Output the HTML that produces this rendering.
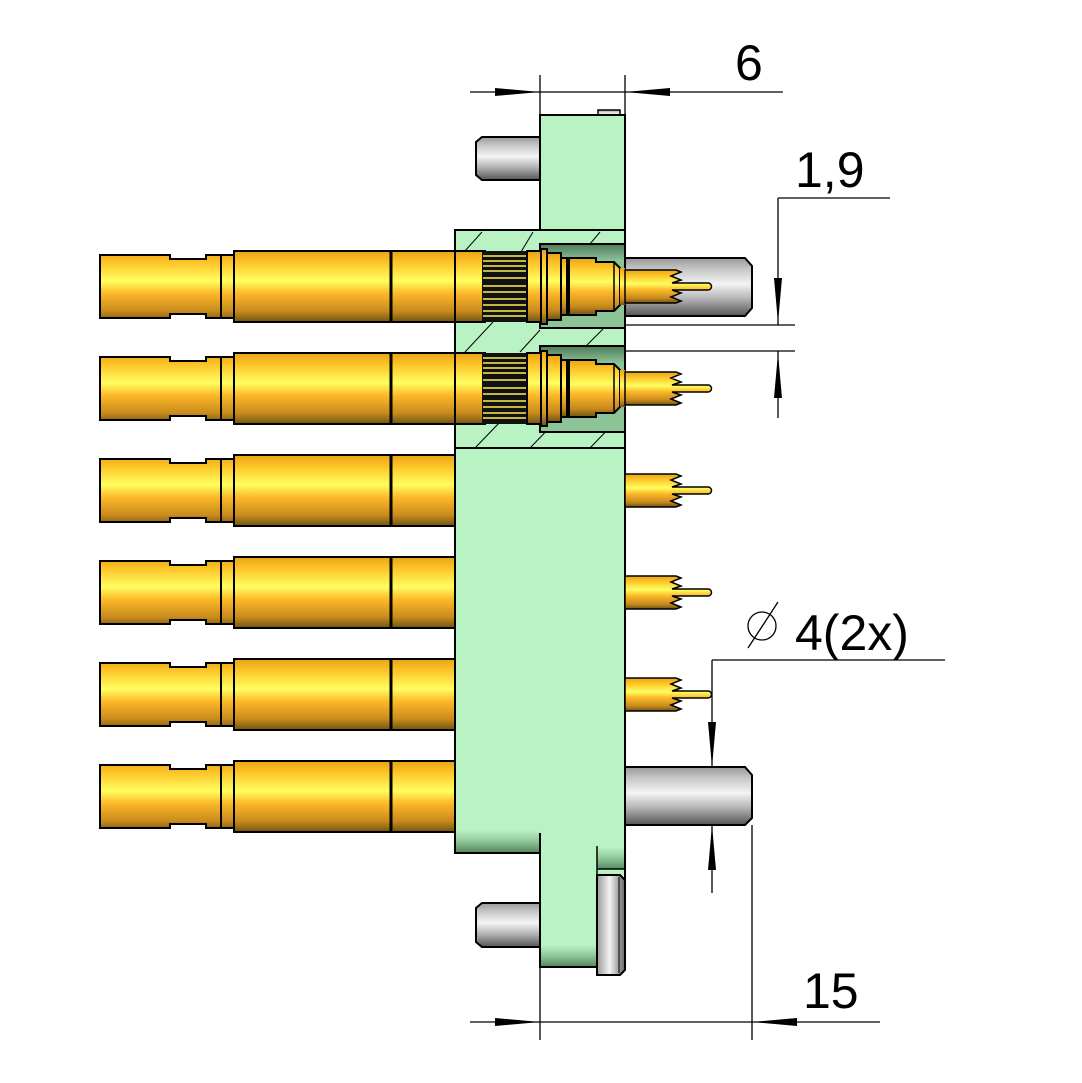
<!DOCTYPE html>
<html><head><meta charset="utf-8"><style>html,body{margin:0;padding:0;background:#fff}svg{display:block}text{font-family:"Liberation Sans",sans-serif;font-size:50px;fill:#000}</style></head>
<body>
<svg width="1082" height="1083" viewBox="0 0 1082 1083" xmlns="http://www.w3.org/2000/svg">
<defs>
<linearGradient id="au" x1="0" y1="0" x2="0" y2="1">
<stop offset="0" stop-color="#e8a416"/><stop offset="0.15" stop-color="#fdc225"/><stop offset="0.42" stop-color="#fffe60"/><stop offset="0.6" stop-color="#fcb828"/><stop offset="0.85" stop-color="#c88a1e"/><stop offset="1" stop-color="#6e5410"/></linearGradient>
<linearGradient id="ag" x1="0" y1="0" x2="0" y2="1">
<stop offset="0" stop-color="#999"/><stop offset="0.2" stop-color="#c8c8c8"/><stop offset="0.45" stop-color="#f4f4f4"/><stop offset="0.7" stop-color="#b4b4b4"/><stop offset="1" stop-color="#555"/></linearGradient>
<linearGradient id="agh" x1="0" y1="0" x2="1" y2="0">
<stop offset="0" stop-color="#999"/><stop offset="0.45" stop-color="#f4f4f4"/><stop offset="1" stop-color="#666"/></linearGradient>
<linearGradient id="gd" x1="0" y1="0" x2="0" y2="1">
<stop offset="0" stop-color="#4f7a5a"/><stop offset="0.2" stop-color="#8cc497"/><stop offset="1" stop-color="#8cc497"/></linearGradient>
<linearGradient id="gb" x1="0" y1="0" x2="0" y2="1">
<stop offset="0" stop-color="#b9f3c4"/><stop offset="0.5" stop-color="#90c89a"/><stop offset="1" stop-color="#5a8a63"/></linearGradient>
<g id="body">
<path d="M100 255 H170 V259 H206 V255 H234 V251 H455 V322 H234 V318 H206 V314 H170 V318 H100 Z" fill="url(#au)" stroke="#000" stroke-width="2"/>
<line x1="221" y1="255" x2="221" y2="318" stroke="#000" stroke-width="2"/>
<line x1="234" y1="251" x2="234" y2="322" stroke="#000" stroke-width="2"/>
<line x1="391" y1="251" x2="391" y2="322" stroke="#000" stroke-width="3"/>
</g>
<g id="tip">
<path d="M625 270 H676 L681 272 L671 276 L681 280 L672 283 H708 A3 3 0 0 1 708 290 H672 L681 293 L671 297 L681 301 L676 303 H625 Z" fill="url(#au)" stroke="#000" stroke-width="1.5"/>
</g>
</defs>
<!-- green flange top -->
<rect x="598" y="110" width="22" height="8" fill="url(#ag)" stroke="#000" stroke-width="1.5"/>
<rect x="540" y="115" width="85" height="118" fill="#b9f3c4" stroke="#000" stroke-width="2"/>
<!-- left top pin -->
<path d="M482 137 H540 V180 H482 L476 175 V142 Z" fill="url(#ag)" stroke="#000" stroke-width="2"/>
<!-- section -->
<rect x="455" y="230" width="170" height="220" fill="#b9f3c4" stroke="#000" stroke-width="2"/>
<g stroke="#000" stroke-width="1">
<line x1="455" y1="262" x2="482" y2="232"/><line x1="515" y1="262" x2="533" y2="232"/><line x1="575" y1="262" x2="600" y2="232"/>
<line x1="465" y1="352" x2="493" y2="322"/><line x1="520" y1="352" x2="540" y2="330"/><line x1="580" y1="352" x2="605" y2="327"/>
<line x1="475" y1="448" x2="500" y2="422"/><line x1="530" y1="448" x2="555" y2="422"/><line x1="590" y1="448" x2="615" y2="422"/>
</g>
<rect x="540" y="244" width="85" height="84" fill="url(#gd)" stroke="#000" stroke-width="2"/>
<rect x="540" y="346" width="85" height="86" fill="url(#gd)" stroke="#000" stroke-width="2"/>
<line x1="455" y1="448" x2="625" y2="448" stroke="#000" stroke-width="2"/>
<!-- main body -->
<path d="M455 448 H625 V853 H455 Z" fill="#b9f3c4" stroke="#000" stroke-width="2"/>
<rect x="456" y="830" width="84" height="22" fill="url(#gb)"/>
<path d="M540 833 V967 H625 V853" fill="#b9f3c4" stroke="#000" stroke-width="2"/>
<rect x="541" y="945" width="56" height="21" fill="url(#gb)"/>
<rect x="597" y="847" width="27" height="22" fill="url(#gb)"/>
<line x1="597" y1="846" x2="597" y2="875" stroke="#000" stroke-width="1.5"/>
<line x1="597" y1="869" x2="625" y2="869" stroke="#000" stroke-width="1.5"/>
<path d="M597 875 H620 L625 880 V970 L620 975 H597 Z" fill="url(#agh)" stroke="#000" stroke-width="2"/>
<line x1="619" y1="877" x2="619" y2="973" stroke="#000" stroke-width="1"/>
<path d="M482 903 H540 V947 H482 L476 942 V908 Z" fill="url(#ag)" stroke="#000" stroke-width="2"/>
<!-- right gray pins -->
<path d="M625 258 H745 L752 266 V308 L745 316 H625 Z" fill="url(#ag)" stroke="#000" stroke-width="2"/>
<path d="M625 767 H745 L752 775 V818 L745 825 H625 Z" fill="url(#ag)" stroke="#000" stroke-width="2"/>
<!-- contacts -->
<use href="#body"/><use href="#body" y="102"/><use href="#body" y="204"/><use href="#body" y="306"/><use href="#body" y="408"/><use href="#body" y="510"/>
<!-- sectioned contacts rows 1-2 -->
<g id="sec">
<rect x="455" y="251" width="30" height="71" fill="url(#au)" stroke="#000" stroke-width="2"/>
<rect x="482" y="251" width="45" height="71" fill="#111"/>
<g stroke="#ffef50" stroke-width="1.5">
<line x1="483" y1="256" x2="526" y2="256"/><line x1="483" y1="261" x2="526" y2="261"/><line x1="483" y1="266" x2="526" y2="266"/><line x1="483" y1="271" x2="526" y2="271"/><line x1="483" y1="278" x2="526" y2="278"/><line x1="483" y1="286" x2="526" y2="286"/><line x1="483" y1="292" x2="526" y2="292"/><line x1="483" y1="299" x2="526" y2="299"/><line x1="483" y1="305" x2="526" y2="305"/><line x1="483" y1="311" x2="526" y2="311"/><line x1="483" y1="316" x2="526" y2="316"/></g>
<rect x="527" y="251" width="14" height="71" fill="url(#au)" stroke="#000" stroke-width="2"/>
<rect x="541" y="249" width="6" height="75" fill="url(#au)" stroke="#000" stroke-width="2"/>
<rect x="547" y="253" width="14" height="67" fill="url(#au)" stroke="#000" stroke-width="2"/>
<rect x="561" y="258" width="6" height="57" fill="url(#au)" stroke="#000" stroke-width="2"/>
<path d="M569 258 H596 V262 H614 L620 268 V305 L614 311 H596 V315 H569 Z" fill="url(#au)" stroke="#000" stroke-width="2"/>
<line x1="614" y1="262" x2="614" y2="311" stroke="#000" stroke-width="1.5"/>
<path d="M620 268 H625 V305 H620" fill="url(#au)"/>
</g>
<use href="#sec" y="102"/>
<use href="#tip"/><use href="#tip" y="102"/><use href="#tip" y="204"/><use href="#tip" y="306"/><use href="#tip" y="408"/>
<!-- dimensions -->
<g stroke="#000" stroke-width="1.3" fill="none">
<line x1="540" y1="75" x2="540" y2="115"/><line x1="625" y1="75" x2="625" y2="115"/>
<line x1="470" y1="92" x2="783" y2="92"/>
<line x1="778" y1="198" x2="890" y2="198"/><line x1="778" y1="198" x2="778" y2="325"/>
<line x1="625" y1="325" x2="795" y2="325"/><line x1="625" y1="351" x2="795" y2="351"/>
<line x1="778" y1="351" x2="778" y2="418"/>
<line x1="712" y1="660" x2="945" y2="660"/><line x1="712" y1="660" x2="712" y2="767"/>
<line x1="712" y1="825" x2="712" y2="893"/>
<line x1="752" y1="825" x2="752" y2="1040"/><line x1="540" y1="967" x2="540" y2="1040"/>
<line x1="470" y1="1022" x2="880" y2="1022"/>
<circle cx="762" cy="626" r="14"/><line x1="748" y1="648" x2="778" y2="602"/>
</g>
<g fill="#000">
<path d="M495 88 L540 92 L495 96 Z"/><path d="M670 88 L625 92 L670 96 Z"/>
<path d="M774 278 L778 323 L782 278 Z"/><path d="M774 398 L778 353 L782 398 Z"/>
<path d="M708 722 L712 767 L716 722 Z"/><path d="M708 870 L712 825 L716 870 Z"/>
<path d="M495 1018 L540 1022 L495 1026 Z"/><path d="M797 1018 L752 1022 L797 1026 Z"/>
</g>
<text x="735" y="80">6</text>
<text x="795" y="187">1,9</text>
<text x="795" y="650">4(2x)</text>
<text x="803" y="1008">15</text>
</svg>
</body></html>
